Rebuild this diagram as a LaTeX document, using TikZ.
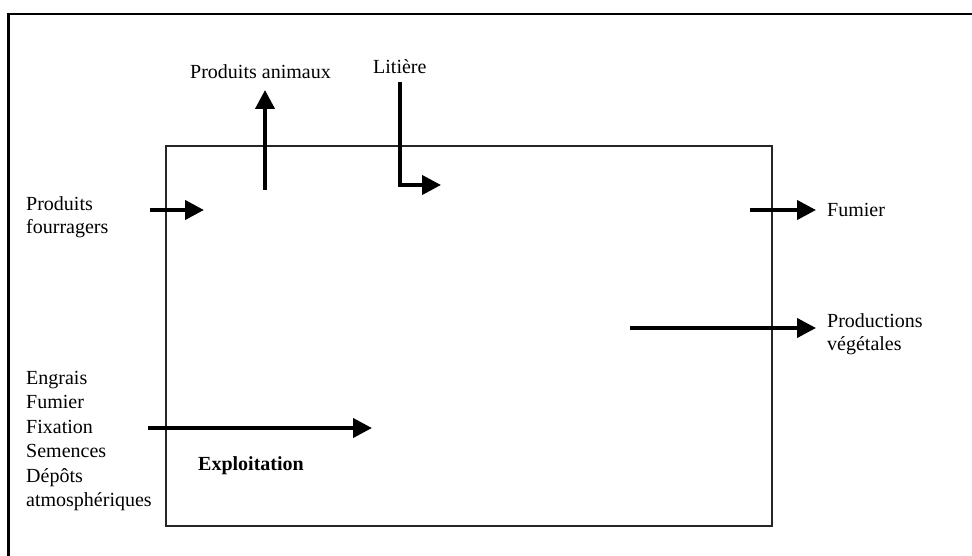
\documentclass[tikz,border=0pt]{standalone}
\usepackage{fontspec}
\setmainfont{Liberation Serif}
\usetikzlibrary{arrows.meta}
\begin{document}
\begin{tikzpicture}[x=1pt,y=-1pt,
  flow/.style={line width=4pt,line join=miter,-{Triangle[length=19pt,width=19pt]}},
  lbl/.style={font=\fontsize{20}{23.5}\selectfont,inner sep=0pt,align=left,anchor=north west}]
\useasboundingbox (0,0) rectangle (972,556);
% outer frame (only top and left edges visible)
\draw[line width=2.5pt] (8.5,556) -- (8.5,14) -- (972,14);
% farm box
\node[draw,line width=2pt,black!85,minimum width=606pt,minimum height=380pt,inner sep=0pt,anchor=north west] (farm) at (165,145) {};
% labels
\node[lbl] (pa) at (190,64.5) {Produits animaux};
\node[lbl] (li) at (373,59.5) {Litière};
\node[lbl] (pf) at (26,196) {Produits\\fourragers};
\node[lbl] (fu) at (827,203.5) {Fumier};
\node[lbl] (pv) at (827,313) {Productions\\végétales};
\node[lbl,font=\fontsize{20}{24.4}\selectfont] (inp) at (26,371) {Engrais\\Fumier\\Fixation\\Semences\\Dépôts\\atmosphériques};
\node[lbl,font=\fontsize{20}{23.5}\selectfont\bfseries] (ex) at (198,456) {Exploitation};
% arrows
\coordinate (pa0) at (265,190); \coordinate (pa1) at (265,90);
\draw[flow] (pa0) -- (pa1);
\coordinate (li0) at (400,82); \coordinate (li1) at (441,185);
\draw[flow] (li0) |- (li1);
\coordinate (pf0) at (150,210); \coordinate (pf1) at (204,210);
\draw[flow] (pf0) -- (pf1);
\coordinate (fu0) at (750,210); \coordinate (fu1) at (816,210);
\draw[flow] (fu0) -- (fu1);
\coordinate (pv0) at (630,328); \coordinate (pv1) at (816,328);
\draw[flow] (pv0) -- (pv1);
\coordinate (in0) at (148,428); \coordinate (in1) at (372,428);
\draw[flow] (in0) -- (in1);
\end{tikzpicture}
\end{document}
